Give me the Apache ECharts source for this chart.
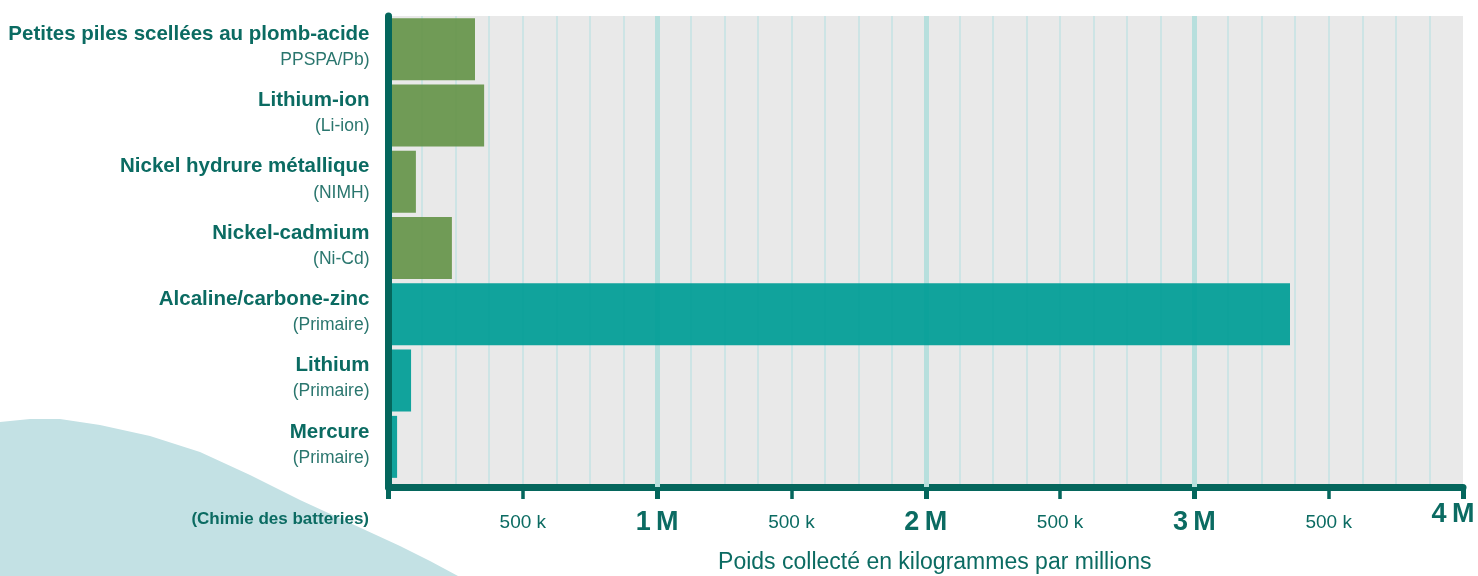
<!DOCTYPE html>
<html>
<head>
<meta charset="utf-8">
<script src="https://cdn.jsdelivr.net/npm/echarts@6/dist/echarts.min.js"></script>
<style>
html,body{margin:0;padding:0;background:#fff;}
#chart{width:1478px;height:576px;}
</style>
</head>
<body>
<div id="chart"></div>
<script>
const categories = ['Petites piles scellées au plomb-acide', 'Lithium-ion', 'Nickel hydrure métallique', 'Nickel-cadmium', 'Alcaline/carbone-zinc', 'Lithium', 'Mercure'];
const subLabels = ['PPSPA/Pb)', '(Li-ion)', '(NIMH)', '(Ni-Cd)', '(Primaire)', '(Primaire)', '(Primaire)'];
const weightKg = [322000, 356000, 102000, 236000, 3356000, 84000, 32000];
const chemistryGroup = ['rechargeable', 'rechargeable', 'rechargeable', 'rechargeable', 'primary', 'primary', 'primary'];
const xTickValues = [0, 500000, 1000000, 1500000, 2000000, 2500000, 3000000, 3500000, 4000000];
const xTickLabels = ['', '500 k', '1 M', '500 k', '2 M', '500 k', '3 M', '500 k', '4 M'];
const xAxisTitle = 'Poids collecté en kilogrammes par millions';
const yAxisTitle = '(Chimie des batteries)';

const FONT = "'Liberation Sans', Arial, sans-serif";
const DARK = '#04665c';
const TEXT = '#0b6b62';
const SUB = '#2a766e';
const groupColor = { rechargeable: '#66954a', primary: '#009d96' };

const chart = echarts.init(document.getElementById('chart'), null, { renderer: 'canvas' });

const L = 388.5, R = 15;

chart.setOption({
  animation: false,
  backgroundColor: '#ffffff',
  graphic: [
    {
      type: 'polygon', z: -10, silent: true,
      shape: { points: [[0, 576], [0, 422], [30, 419], [60, 419], [100, 425], [150, 436], [200, 452], [250, 475], [300, 500], [350, 523], [400, 546], [430, 561], [458, 576]] },
      style: { fill: '#c3e1e4' }
    },
    {
      type: 'text', z: 10, x: 369, y: 519,
      style: { text: yAxisTitle, align: 'right', verticalAlign: 'middle', fontFamily: FONT, fontWeight: 'bold', fontSize: 17, fill: TEXT }
    }
  ],
  grid: [
    { left: L, right: R, top: 16, bottom: 89, show: true, backgroundColor: '#e9e9e9', borderWidth: 0, containLabel: false, outerBoundsMode: 'none' },
    { left: L, right: R, top: 16, bottom: 96, show: false, containLabel: false, outerBoundsMode: 'none' }
  ],
  xAxis: [
    {
      type: 'value', gridIndex: 0, position: 'bottom', min: 0, max: 4000000, interval: 500000,
      axisLine: { show: true, lineStyle: { color: DARK, width: 7 } },
      axisTick: { show: true, length: 12, lineStyle: { color: DARK, width: 3.5 } },
      splitLine: { show: true, showMinLine: false, showMaxLine: false, lineStyle: { color: '#c3e2e3', width: 1.5 } },
      minorTick: { show: false, splitNumber: 4 },
      minorSplitLine: { show: true, lineStyle: { color: '#c3e2e3', width: 1.5 } },
      axisLabel: {
        show: true, showMinLabel: true, showMaxLabel: true, margin: 22, hideOverlap: false,
        formatter: function (value) {
          const i = xTickValues.indexOf(value);
          const t = i >= 0 ? xTickLabels[i] : '';
          if (!t) return '';
          if (t.indexOf('M') >= 0) {
            const s = t.replace(' ', '\u2009');
            return i === xTickValues.length - 1 ? '{m4|' + s + '}' : '{m|' + s + '}';
          }
          return '{k|' + t + '}';
        },
        rich: {
          k: { fontFamily: FONT, fontSize: 19, color: TEXT, lineHeight: 28 },
          m: { fontFamily: FONT, fontSize: 27, fontWeight: 'bold', color: TEXT, lineHeight: 28 },
          m4: { fontFamily: FONT, fontSize: 27, fontWeight: 'bold', color: TEXT, lineHeight: 12, padding: [0, 20, 0, 0] }
        }
      },
      name: xAxisTitle, nameLocation: 'middle', nameGap: 64,
      nameTextStyle: { fontFamily: FONT, fontSize: 23, color: TEXT, padding: [0, 0, 0, 18] }
    },
    {
      type: 'value', gridIndex: 1, min: 0, max: 4000000, show: false
    },
    {
      type: 'value', gridIndex: 0, position: 'bottom', min: 0, max: 4000000, interval: 1000000, z: 1,
      axisLine: { show: false },
      axisTick: { show: true, length: 12, lineStyle: { color: DARK, width: 5 } },
      axisLabel: { show: false },
      splitLine: { show: true, showMinLine: false, showMaxLine: false, lineStyle: { color: '#b7dfdd', width: 5 } }
    }
  ],
  yAxis: [
    {
      type: 'value', gridIndex: 0, min: 0, max: 1, z: 3,
      axisLine: { show: true, lineStyle: { color: DARK, width: 7 } },
      axisTick: { show: false }, axisLabel: { show: false }, splitLine: { show: false }
    },
    {
      type: 'category', gridIndex: 1, inverse: true, data: categories,
      axisLine: { show: false }, axisTick: { show: false }, splitLine: { show: false },
      axisLabel: {
        margin: 19,
        formatter: function (value, index) {
          return '{a|' + value + '}\n{b|' + subLabels[index] + '}';
        },
        rich: {
          a: { fontFamily: FONT, fontSize: 20.5, fontWeight: 'bold', color: TEXT, lineHeight: 22, align: 'right' },
          b: { fontFamily: FONT, fontSize: 17.5, color: SUB, lineHeight: 30, align: 'right' }
        }
      }
    }
  ],
  series: [
    {
      type: 'bar', xAxisIndex: 1, yAxisIndex: 1, barWidth: 62, z: 2,
      data: weightKg,
      itemStyle: {
        opacity: 0.93,
        color: function (p) { return groupColor[chemistryGroup[p.dataIndex]]; }
      }
    }
  ]
});
</script>
</body>
</html>
